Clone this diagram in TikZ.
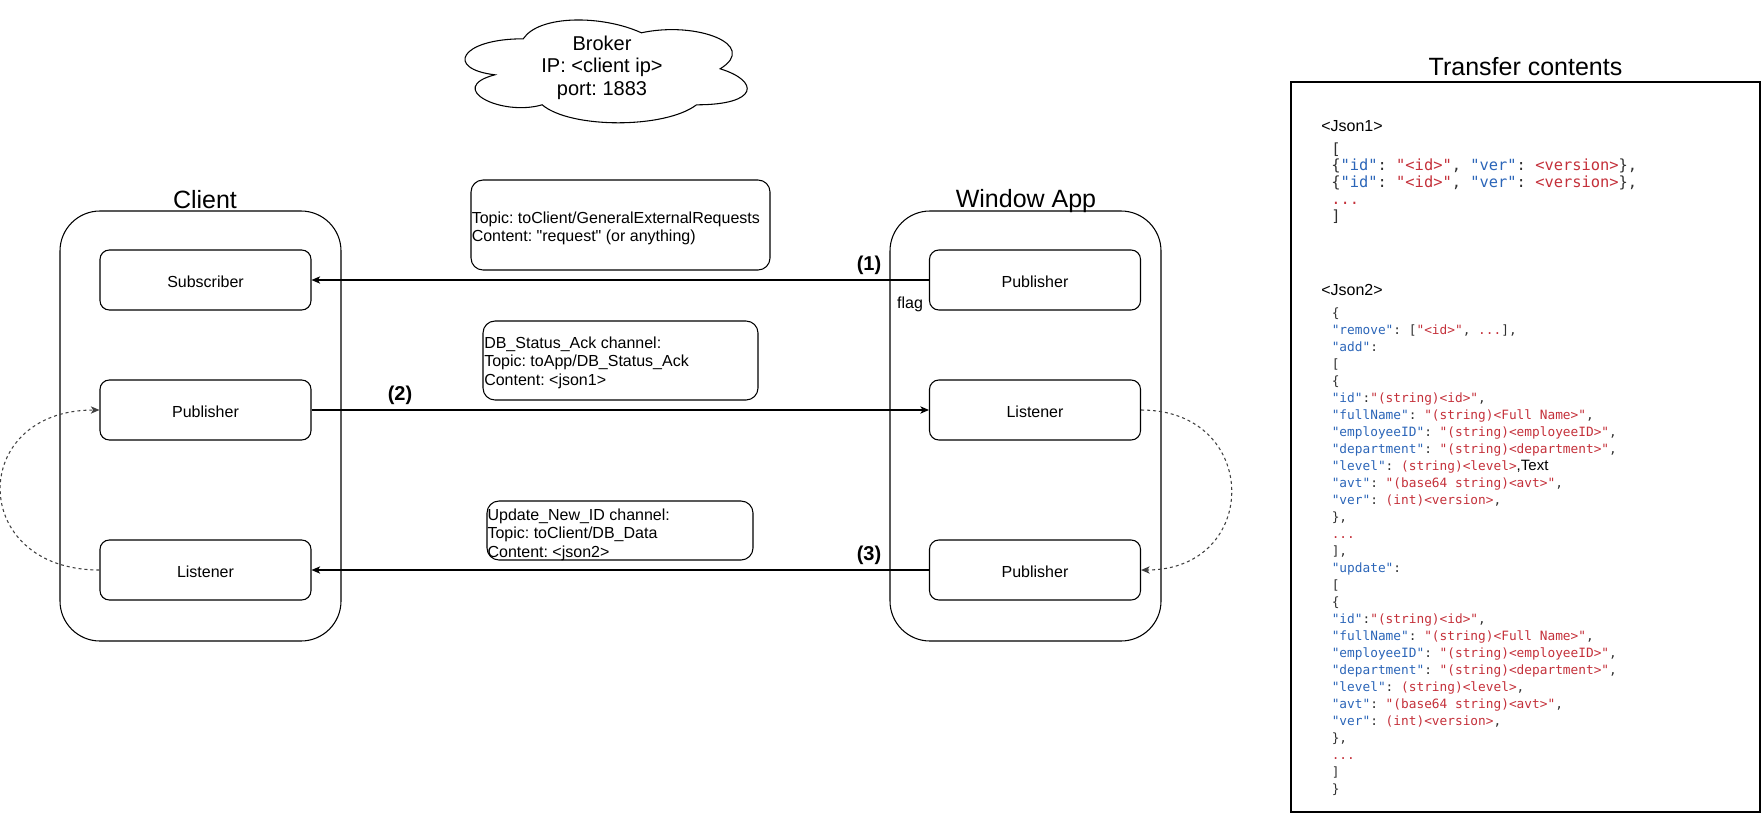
\documentclass[tikz,border=0pt]{standalone}
\usepackage{fontspec}
\newfontfamily\sff{Liberation Sans}
\newfontfamily\monof{DejaVu Sans Mono}
\usetikzlibrary{arrows.meta}
\definecolor{jkey}{HTML}{2B65B8}
\definecolor{jval}{HTML}{C4303A}
\definecolor{jpun}{HTML}{303030}
\newcommand\jk[1]{\textcolor{jkey}{#1}}
\newcommand\jv[1]{\textcolor{jval}{#1}}
\frenchspacing
\begin{document}
\frenchspacing
\begin{tikzpicture}[x=0.75pt,y=-0.75pt,
  container/.style={draw, line width=0.8pt, rounded corners=30pt, inner sep=0pt},
  comp/.style={draw, line width=0.8pt, rounded corners=7pt, minimum width=158.25pt, minimum height=45pt, inner sep=0pt, text height=11.6pt, text depth=0pt, font=\sff\fontsize{12pt}{14pt}\selectfont},
  chan/.style={draw, line width=0.8pt, rounded corners=9pt, inner sep=0pt},
  chantext/.style={anchor=north west, inner sep=0pt, font=\sff\fontsize{12pt}{13.875pt}\selectfont},
  ttl/.style={anchor=base, inner sep=0pt, font=\sff\fontsize{18.75pt}{22pt}\selectfont},
  num/.style={inner sep=0pt, font=\sff\bfseries\fontsize{15pt}{18pt}\selectfont},
  small/.style={inner sep=0pt, font=\sff\fontsize{12pt}{14pt}\selectfont},
  arr/.style={line width=0.8pt, -{Stealth[length=6.5pt,width=5.5pt,inset=1.8pt]}},
  dsh/.style={arr, draw=black!75, dash pattern=on 2.25pt off 2.25pt},
  jsonblk/.style={anchor=north west, inner sep=0pt, text=jpun},
]
\useasboundingbox (0,0) rectangle (1762,814);

% Broker cloud
\draw[line width=0.8pt] (523.25,38.8)
  .. controls (460.25,38.8) and (444.5,68.8) .. (494.9,74.8)
  .. controls (444.5,88) and (501.2,116.8) .. (542.15,104.8)
  .. controls (570.5,128.8) and (665,128.8) .. (696.5,104.8)
  .. controls (759.5,104.8) and (759.5,80.8) .. (720.125,68.8)
  .. controls (759.5,44.8) and (696.5,20.8) .. (641.375,32.8)
  .. controls (602,14.8) and (539,14.8) .. (523.25,38.8) -- cycle;
\node[align=center, inner sep=0pt, font=\sff\fontsize{15pt}{17pt}\selectfont] (broker) at (602,67.5) {Broker\\IP: <client ip>\\port: 1883};

% Containers
\node[container, minimum width=210.75pt, minimum height=322.5pt] (client) at (200.5,426) {};
\node[container, minimum width=203.25pt, minimum height=322.5pt] (winapp) at (1025.5,426) {};
\node[ttl] (tclient) at (205,208) {Client};
\node[ttl] (twin) at (1026,207) {Window App};

% Components
\node[comp] (csub) at (205.5,280) {Subscriber};
\node[comp] (cpub) at (205.5,410) {Publisher};
\node[comp] (clis) at (205.5,570) {Listener};
\node[comp] (wpub1) at (1035,280) {Publisher};
\node[comp] (wlis) at (1035,410) {Listener};
\node[comp] (wpub2) at (1035,570) {Publisher};

% Channel boxes
\node[chan, minimum width=224.25pt, minimum height=67.5pt] (topic) at (620.5,225) {};
\node[chantext] (topictxt) at (471.5,210) {\begin{tabular}{@{}l@{}}Topic: toClient/GeneralExternalRequests\\Content: "request" (or anything)\end{tabular}};
\node[chan, minimum width=206.25pt, minimum height=59.25pt] (dbstat) at (620.5,360.5) {};
\node[chantext] (dbtxt) at (484,335) {\begin{tabular}{@{}l@{}}DB\_Status\_Ack channel:\\Topic: toApp/DB\_Status\_Ack\\Content: <json1>\end{tabular}};
\node[chan, minimum width=199.5pt, minimum height=44.25pt] (upd) at (620,530.5) {};
\node[chantext] (updtxt) at (487.3,507) {\begin{tabular}{@{}l@{}}Update\_New\_ID channel:\\Topic: toClient/DB\_Data\\Content: <json2>\end{tabular}};

% Connectors
\draw[arr] (wpub1.west) -- (csub.east);
\draw[arr] (cpub.east) -- (wlis.west);
\draw[arr] (wpub2.west) -- (clis.east);
\draw[dsh] (clis.west) .. controls (-32,570) and (-32,410) .. (cpub.west);
\draw[dsh] (wlis.east) .. controls (1261,410) and (1261,570) .. (wpub2.east);

% Labels
\node[num] (l1) at (869,265) {(1)};
\node[num] (l2) at (400,395) {(2)};
\node[num] (l3) at (869,555) {(3)};
\node[small, anchor=base] (flag) at (910,308) {flag};

% Transfer contents panel
\node[draw, line width=0.8pt, minimum width=351.75pt, minimum height=547.5pt, inner sep=0pt] (panel) at (1525.5,447) {};
\node[ttl] (ttrans) at (1525.5,75) {Transfer contents};
\node[small, anchor=base west] (j1lab) at (1321,131) {<Json1>};
\node[small, anchor=base west] (j2lab) at (1321,295) {<Json2>};

\node[jsonblk, font=\monof\fontsize{11.55pt}{12.525pt}\selectfont] (json1) at (1331,142.3) {\begin{tabular}{@{}l@{}}
{[}\\
\{\jk{"id"}: \jv{"<id>"}, \jk{"ver"}: \jv{<version>}\},\\
\{\jk{"id"}: \jv{"<id>"}, \jk{"ver"}: \jv{<version>}\},\\
\jv{...}\\
]
\end{tabular}};

\node[jsonblk, font=\monof\fontsize{9.6pt}{12.75pt}\selectfont] (json2) at (1331.5,305.1) {\begin{tabular}{@{}l@{}}
\{\\
\jk{"remove"}: [\jv{"<id>"}, \jv{...}],\\
\jk{"add"}:\\
{[}\\
\{\\
\jk{"id"}:\jv{"(string)<id>"},\\
\jk{"fullName"}: \jv{"(string)<Full Name>"},\\
\jk{"employeeID"}: \jv{"(string)<employeeID>"},\\
\jk{"department"}: \jv{"(string)<department>"},\\
\jk{"level"}: \jv{(string)<level>}{\sff\fontsize{11.25pt}{12.75pt}\selectfont\color{black},Text}\\
\jk{"avt"}: \jv{"(base64 string)<avt>"},\\
\jk{"ver"}: \jv{(int)<version>},\\
\},\\
\jv{...}\\
],\\
\jk{"update"}:\\
{[}\\
\{\\
\jk{"id"}:\jv{"(string)<id>"},\\
\jk{"fullName"}: \jv{"(string)<Full Name>"},\\
\jk{"employeeID"}: \jv{"(string)<employeeID>"},\\
\jk{"department"}: \jv{"(string)<department>"},\\
\jk{"level"}: \jv{(string)<level>},\\
\jk{"avt"}: \jv{"(base64 string)<avt>"},\\
\jk{"ver"}: \jv{(int)<version>},\\
\},\\
\jv{...}\\
]\\
\}
\end{tabular}};
\end{tikzpicture}
\end{document}
